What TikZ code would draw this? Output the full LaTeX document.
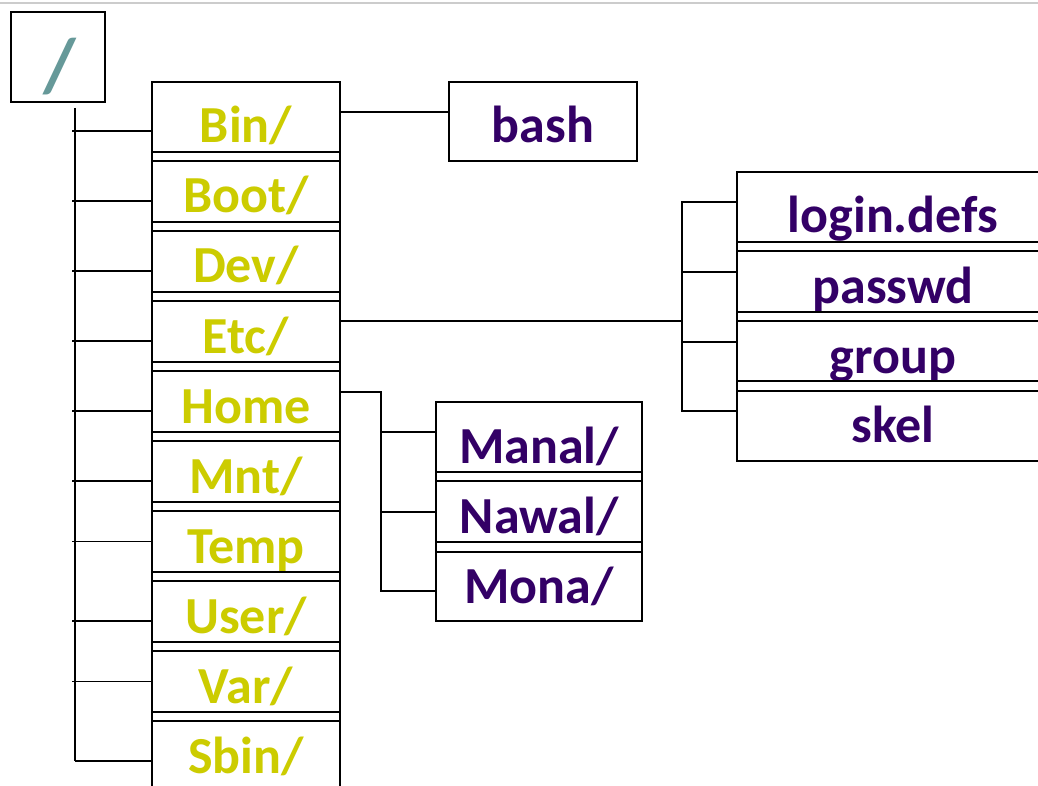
\documentclass[tikz,border=0pt]{standalone}
\usepackage{fontspec}
\setmainfont{Carlito}
\definecolor{dirc}{HTML}{CCCC00}
\definecolor{filec}{HTML}{330066}
\definecolor{rootc}{HTML}{669999}
\definecolor{framec}{HTML}{CCCCCC}
\tikzset{
  box/.style={draw=black, line width=1.6pt, rectangle, inner sep=0pt, fill=none,
    font=\fontsize{52}{60}\selectfont\bfseries, text height=43pt, text depth=0pt},
  dircell/.style={box, minimum width=188pt, minimum height=79pt, text=dirc},
  filecell/.style={box, text=filec},
  rootbox/.style={box, minimum width=94pt, minimum height=90pt, text=rootc,
    font=\fontsize{76}{80}\selectfont\bfseries, text height=70pt, text width=30pt, align=right},
  conn/.style={draw=black, line width=1.6pt}
}
\begin{document}
\begin{tikzpicture}[x=1pt,y=-1pt]
\clip (0,0) rectangle (1038,786);
\fill[white] (0,0) rectangle (1038,786);
\draw[framec, line width=2pt] (0,3) -- (1038,3);
% root
\node[rootbox] (root) at (58,57) {/};
% directory column
\node[dircell] (bin)  at (246,121.5) {Bin/};
\node[dircell] (boot) at (246,191.5) {Boot/};
\node[dircell] (dev)  at (246,261.5) {Dev/};
\node[dircell] (etc)  at (246,331.5) {Etc/};
\node[dircell] (home) at (246,401.5) {Home};
\node[dircell] (mnt)  at (246,471.5) {Mnt/};
\node[dircell] (temp) at (246,541.5) {Temp};
\node[dircell] (user) at (246,611.5) {User/};
\node[dircell] (var)  at (246,681.5) {Var/};
\node[dircell] (sbin) at (246,751.5) {Sbin/};
% bash
\node[filecell, minimum width=188pt, minimum height=79pt] (bash) at (543,121.5) {bash};
% etc files
\node[filecell, minimum width=312pt, minimum height=79pt] (login)  at (893,211.5) {login.defs};
\node[filecell, minimum width=312pt, minimum height=79pt] (passwd) at (893,281.5) {passwd};
\node[filecell, minimum width=312pt, minimum height=79pt] (group)  at (893,351.5) {group};
\node[filecell, minimum width=312pt, minimum height=80pt] (skel)   at (893,421) {skel};
% home users
\node[filecell, minimum width=206pt, minimum height=79pt] (manal) at (539,441.5) {Manal/};
\node[filecell, minimum width=206pt, minimum height=80pt] (nawal) at (539,512) {Nawal/};
\node[filecell, minimum width=206pt, minimum height=79pt] (mona)  at (539,581.5) {Mona/};
% trunk
\coordinate (trtop) at (75,108);
\coordinate (trbot) at (75,761);
\draw[conn] (trtop) -- (trbot);
\draw[conn] ([yshift=-9.5pt]bin.west) -- ++(-79,0);
\draw[conn] ([yshift=-9.5pt]boot.west) -- ++(-79,0);
\draw[conn] ([yshift=-9.5pt]dev.west) -- ++(-79,0);
\draw[conn] ([yshift=-9.5pt]etc.west) -- ++(-79,0);
\draw[conn] ([yshift=-9.5pt]home.west) -- ++(-79,0);
\draw[conn] ([yshift=-9.5pt]mnt.west) -- ++(-79,0);
\draw[conn] (temp.west) -- ++(-79,0);
\draw[conn] ([yshift=-9.5pt]user.west) -- ++(-79,0);
\draw[conn] (var.west) -- ++(-79,0);
\draw[conn] ([yshift=-9.5pt]sbin.west) -- (trbot);
% bin -> bash
\draw[conn] ([yshift=9.5pt]bin.east) -- ([yshift=9.5pt]bash.west);
% etc -> files
\coordinate (eb) at (682,321);
\draw[conn] ([yshift=10.5pt]etc.east) -- (eb);
\draw[conn] ([yshift=9.5pt]login.west) -| ([yshift=10pt]skel.west -| eb) -- ([yshift=10pt]skel.west);
\draw[conn] ([yshift=9.5pt]passwd.west) -- ++(-55,0);
\draw[conn] ([yshift=9.5pt]group.west) -- ++(-55,0);
% home -> users
\coordinate (hb) at (381,392);
\draw[conn] ([yshift=9.5pt]home.east) -- (hb) |- ([yshift=-9.5pt]mona.west);
\draw[conn] ([yshift=9.5pt]manal.west) -- ++(-55,0);
\draw[conn] (nawal.west) -- ++(-55,0);
\end{tikzpicture}
\end{document}
